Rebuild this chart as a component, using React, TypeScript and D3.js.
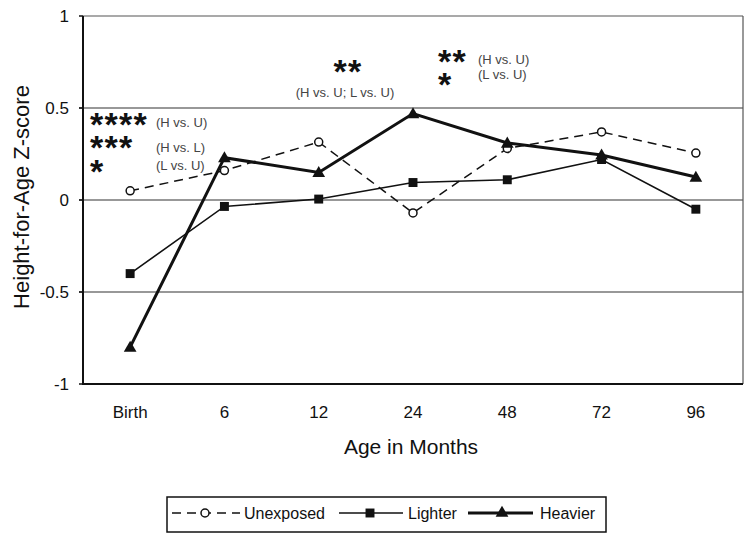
import React from "react";
import * as d3 from "d3";

const categories = ["Birth", "6", "12", "24", "48", "72", "96"];
const unexposed = [0.05, 0.16, 0.315, -0.07, 0.28, 0.37, 0.255];
const lighter = [-0.4, -0.035, 0.005, 0.095, 0.11, 0.22, -0.05];
const heavier = [-0.8, 0.23, 0.15, 0.47, 0.31, 0.245, 0.125];
const yTicks = [1, 0.5, 0, -0.5, -1];
const gridValues = [0.5, 0, -0.5];

const W = 750;
const H = 540;
const M = { left: 83, right: 743, top: 16, bottom: 384 };
const FONT = "'Liberation Sans', Arial, sans-serif";

export default function App() {
  const x = d3.scaleBand<string>().domain(categories).range([M.left, M.right]).paddingInner(0).paddingOuter(0);
  const cx = (c: string) => (x(c) as number) + x.bandwidth() / 2;
  const y = d3.scaleLinear().domain([-1, 1]).range([M.bottom, M.top]);
  const line = d3
    .line<number>()
    .x((_, i) => cx(categories[i]))
    .y((d) => y(d));

  const tri = d3.symbol().type(d3.symbolTriangle).size(70)();
  const sq = d3.symbol().type(d3.symbolSquare).size(80)();

  return (
    <div style={{ position: "absolute", left: 0, top: 0 }}>
      <svg width={W} height={H} style={{ display: "block", background: "#fff" }} fontFamily={FONT}>
        {/* grid */}
        {gridValues.map((g) => (
          <line key={g} x1={M.left - 4} x2={M.right} y1={y(g)} y2={y(g)} stroke="#333" strokeWidth={1.2} />
        ))}
        {/* frame */}
        <line x1={M.left} x2={M.right} y1={M.top} y2={M.top} stroke="#555" strokeWidth={1.2} />
        <line x1={M.right} x2={M.right} y1={M.top} y2={M.bottom} stroke="#555" strokeWidth={1.2} />
        <line x1={M.left} x2={M.left} y1={M.top} y2={M.bottom + 1} stroke="#111" strokeWidth={2} />
        <line x1={M.left} x2={M.right} y1={M.bottom} y2={M.bottom} stroke="#111" strokeWidth={2} />
        {yTicks.map((t) => (
          <g key={t}>
            <line x1={M.left - 4} x2={M.left} y1={y(t)} y2={y(t)} stroke="#111" strokeWidth={1.5} />
            <text x={69} y={y(t) + 6} textAnchor="end" fontSize={17} fill="#111">
              {t}
            </text>
          </g>
        ))}
        {categories.map((c) => (
          <text key={c} x={cx(c)} y={418} textAnchor="middle" fontSize={17} fill="#111">
            {c}
          </text>
        ))}
        <text x={411} y={454} textAnchor="middle" fontSize={21} fill="#111">
          Age in Months
        </text>
        <text transform={`translate(29,197) rotate(-90)`} textAnchor="middle" fontSize={22} fill="#111">
          Height-for-Age Z-score
        </text>

        {/* series */}
        <path d={line(unexposed) || ""} fill="none" stroke="#111" strokeWidth={1.5} strokeDasharray="9,6" />
        <path d={line(lighter) || ""} fill="none" stroke="#111" strokeWidth={1.6} />
        <path d={line(heavier) || ""} fill="none" stroke="#111" strokeWidth={3} />
        {unexposed.map((v, i) => (
          <circle key={"u" + i} cx={cx(categories[i])} cy={y(v)} r={4} fill="#fff" stroke="#111" strokeWidth={1.5} />
        ))}
        {lighter.map((v, i) => (
          <path key={"l" + i} d={sq || ""} transform={`translate(${cx(categories[i])},${y(v)})`} fill="#111" />
        ))}
        {heavier.map((v, i) => (
          <path key={"h" + i} d={tri || ""} transform={`translate(${cx(categories[i])},${y(v) + 1})`} fill="#111" />
        ))}

        {/* annotations */}
        <g fontWeight="bold" fontSize={34} fill="#111" letterSpacing={1.3}>
          <text x={90} y={136}>
            <tspan x={90} y={136}>****</tspan>
            <tspan x={90} y={159}>***</tspan>
            <tspan x={90} y={183}>*</tspan>
          </text>
          <text x={348} y={83} textAnchor="middle">**</text>
          <text x={438} y={73}>
            <tspan x={438} y={73}>**</tspan>
            <tspan x={438} y={96}>*</tspan>
          </text>
        </g>
        <g fontSize={13} fill="#444">
          <text x={156} y={127}>(H vs. U)</text>
          <text x={156} y={152}>(H vs. L)</text>
          <text x={156} y={170}>(L vs. U)</text>
          <text x={345} y={97} textAnchor="middle">(H vs. U; L  vs. U)</text>
          <text x={478} y={64}>(H vs. U)</text>
          <text x={478} y={79}>(L vs. U)</text>
        </g>

        {/* legend */}
        <rect x={167} y={497} width={439} height={35} fill="#fff" stroke="#111" strokeWidth={1.5} />
        <line x1={172} x2={240} y1={513} y2={513} stroke="#111" strokeWidth={1.5} strokeDasharray="9,6" />
        <circle cx={205} cy={513} r={4} fill="#fff" stroke="#111" strokeWidth={1.5} />
        <text x={244} y={519} fontSize={16} fill="#111">Unexposed</text>
        <line x1={339} x2={403} y1={513} y2={513} stroke="#111" strokeWidth={1.6} />
        <path d={sq || ""} transform="translate(370,513)" fill="#111" />
        <text x={408} y={519} fontSize={16} fill="#111">Lighter</text>
        <line x1={468} x2={533} y1={513} y2={513} stroke="#111" strokeWidth={3} />
        <path d={tri || ""} transform="translate(502,513)" fill="#111" />
        <text x={540} y={519} fontSize={16} fill="#111">Heavier</text>
      </svg>
    </div>
  );
}
